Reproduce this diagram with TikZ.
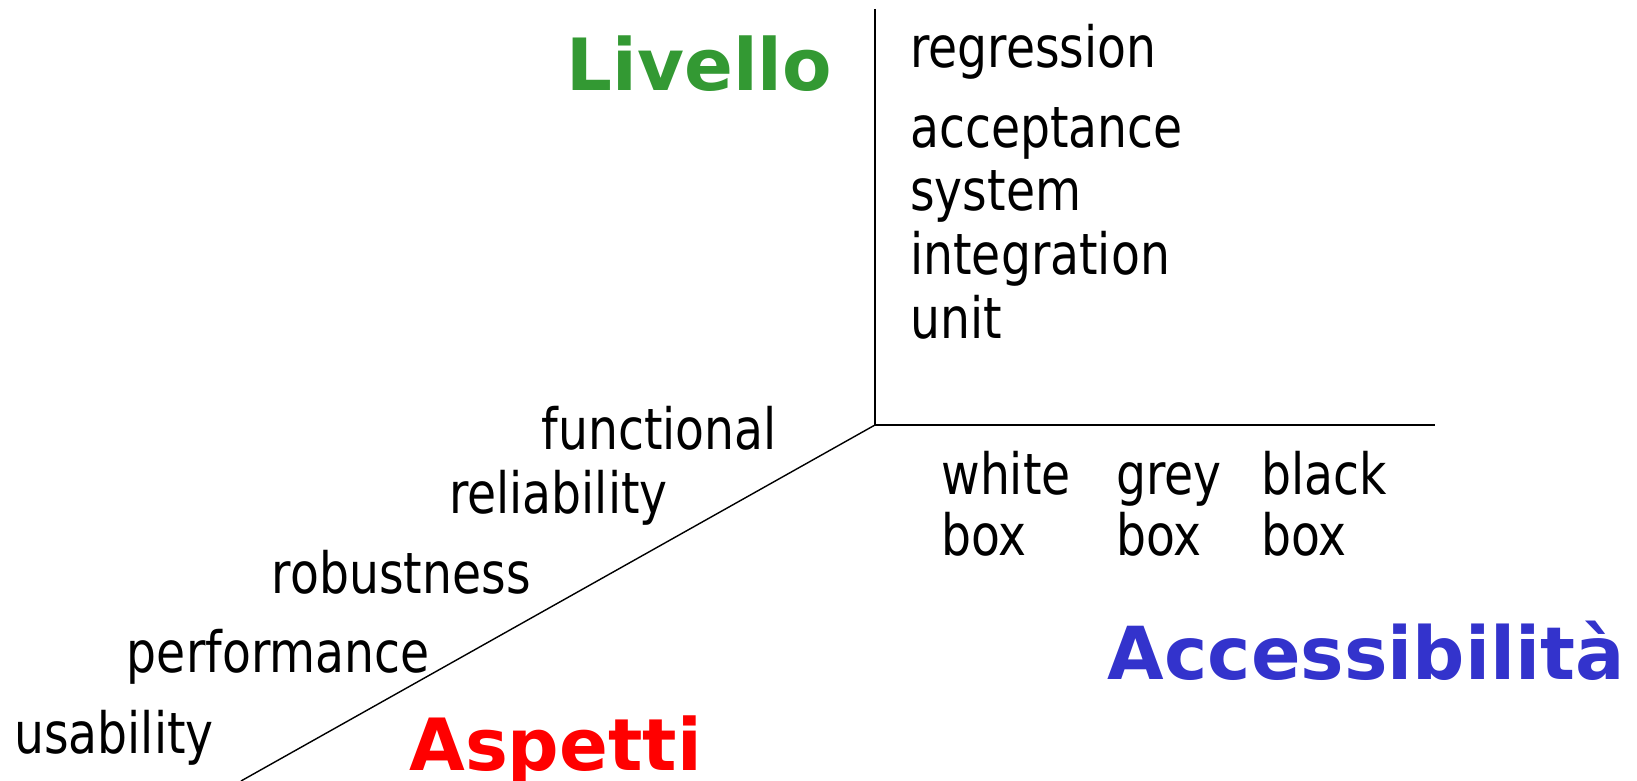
\documentclass[tikz,border=0pt]{standalone}
\usepackage{fontspec}
\setmainfont{DejaVu Sans}[FakeStretch=0.83]
\newfontfamily\titlefont{DejaVu Sans}
\usepackage{xcolor}
\definecolor{livgreen}{HTML}{339933}
\definecolor{accblue}{HTML}{3333CC}
\newcommand{\labelsize}{\fontsize{32.4}{34.2}\selectfont}
\newcommand{\titlesize}{\titlefont\bfseries\fontsize{41}{41}\selectfont}

\begin{document}
\begin{tikzpicture}[every node/.style={inner sep=0pt,font=\labelsize}]
    \useasboundingbox (-17.5,-7.12) rectangle (15.24,8.5);
    \coordinate (o) at (0,0);
    \coordinate (ltop) at (0,8.32);
    \coordinate (aend) at (11.2,0);
    \coordinate (send) at (-12.68,-7.12);
    \draw[line width=1pt] (ltop) -- (o) -- (aend);
    \draw[line width=0.8pt] (o) -- (send);

    \path (o) +(-0.85,6.68) node[anchor=base east,livgreen,font=\titlesize](livello){Livello}
      +(0.7,7.14) node[anchor=base west](regr){regression}
      +(0.7,5.54) node[anchor=base west](acc){acceptance}
      +(0.7,4.28) node[anchor=base west](sys){system}
      +(0.7,3.0) node[anchor=base west](integ){integration}
      +(0.7,1.72) node[anchor=base west](unit){unit};
    \path (o) +(-1.96,-0.5) node[anchor=base east](func){functional}
      +(-4.14,-1.76) node[anchor=base east](rel){reliability}
      +(-6.88,-3.36) node[anchor=base east](rob){robustness}
      +(-8.9,-4.94) node[anchor=base east](perf){performance}
      +(-13.22,-6.56) node[anchor=base east](usab){usability}
      +(-9.32,-6.9) node[anchor=base west,red,font=\titlesize](aspetti){Aspetti};
    \path (o) +(1.32,-2.6) node[anchor=base west,align=left](white){white\\box}
      +(4.82,-2.6) node[anchor=base west,align=left](grey){grey\\box}
      +(7.72,-2.6) node[anchor=base west,align=left](black){black\\box}
      +(15.0,-5.08) node[anchor=base east,accblue,font=\titlesize\fontsize{41.6}{41.6}\selectfont](access){Accessibilità};
\end{tikzpicture}
\end{document}
